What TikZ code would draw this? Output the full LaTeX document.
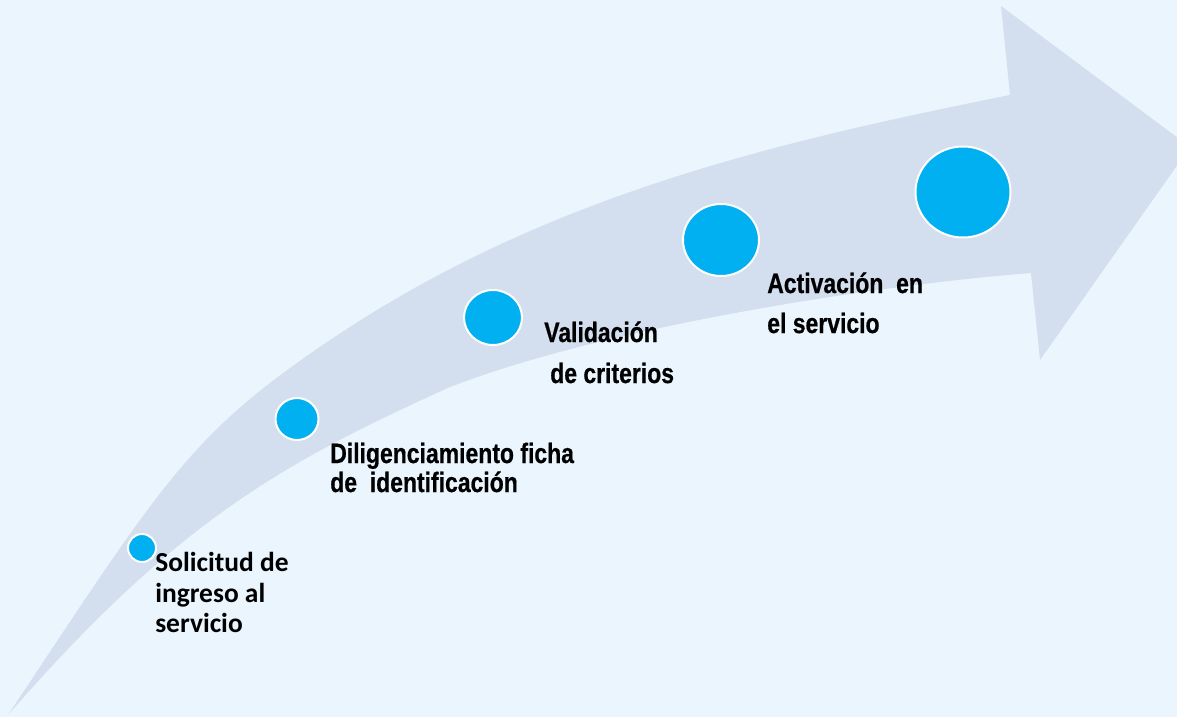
\documentclass[tikz,border=0pt]{standalone}
\usepackage{fontspec}
\usetikzlibrary{shapes.geometric}
\newfontfamily\narrowfont[FakeStretch=0.82,BoldFeatures={FakeBold=0.6}]{Liberation Sans}
\newfontfamily\calfont{Carlito}
\definecolor{bgcol}{HTML}{EAF5FD}
\definecolor{bandcol}{HTML}{D3DEEF}
\definecolor{dotcol}{HTML}{00B0F0}
\begin{document}
\begin{tikzpicture}[x=0.75pt,y=-0.75pt,
  dot/.style={ellipse,fill=dotcol,draw=white,line width=1.5pt,inner sep=0pt},
  lblA/.style={anchor=base west,inner sep=0pt,font=\narrowfont\bfseries\fontsize{21pt}{24pt}\selectfont,text=black},
  lblB/.style={anchor=base west,inner sep=0pt,font=\calfont\bfseries\fontsize{20.6pt}{23pt}\selectfont,text=black}]
\useasboundingbox (0,0) rectangle (1177,717);
\fill[bgcol] (0,0) rectangle (1177,717);
\clip (0,0) rectangle (1177,717);
% big curved arrow
\fill[bandcol]
  (8,715) .. controls (168,475) and (190,431) .. (350,327)
  .. controls (563,189) and (797,138) .. (1010,95)
  -- (1001,6) -- (1190,147) -- (1040,360) -- (1031,273)
  .. controls (876,285) and (605,327) .. (450,387)
  .. controls (282,463) and (176,522) .. (8,715)
  -- cycle;
% dots
\node[dot,minimum width=28*0.75pt,minimum height=28*0.75pt] (c1) at (142,548) {};
\node[dot,minimum width=43*0.75pt,minimum height=42*0.75pt] (c2) at (297,419) {};
\node[dot,minimum width=58*0.75pt,minimum height=55*0.75pt] (c3) at (493,317.5) {};
\node[dot,minimum width=76*0.75pt,minimum height=72*0.75pt] (c4) at (721,240) {};
\node[dot,minimum width=95*0.75pt,minimum height=91*0.75pt] (c5) at (963,192) {};
% labels
\node[lblB] (t1a) at (155,571) {Solicitud de};
\node[lblB] (t1b) at (155,602) {ingreso al};
\node[lblB] (t1c) at (155,632) {servicio};
\node[lblA] (t2a) at (330,463) {Diligenciamiento ficha};
\node[lblA] (t2b) at (330,492) {de\ \ identificación};
\node[lblA] (t3a) at (544,342) {Validación};
\node[lblA] (t3b) at (550,383) {de criterios};
\node[lblA] (t4a) at (767,293) {Activación\ \ en};
\node[lblA] (t4b) at (767,333) {el servicio};
\end{tikzpicture}
\end{document}
